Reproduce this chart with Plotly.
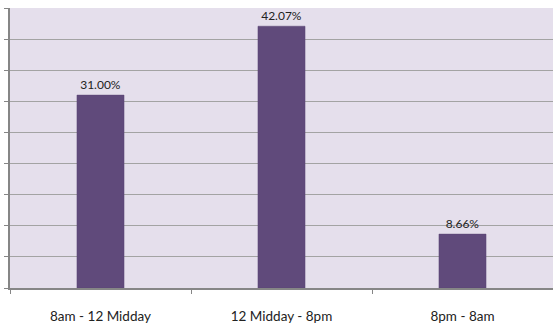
import plotly.graph_objects as go

categories = ["8am - 12 Midday", "12 Midday - 8pm", "8pm - 8am"]
values = [31.00, 42.07, 8.66]
labels = ["31.00%", "42.07%", "8.66%"]

fig = go.Figure(go.Bar(
    x=categories, y=values, text=labels, textposition="outside",
    textfont=dict(family="Lato", size=12, color="#222222"),
    marker=dict(color="#604A7B", line=dict(color="#5A4675", width=0.5)),
    width=0.26, cliponaxis=False,
))

fig.update_layout(
    width=553, height=329,
    margin=dict(l=10, r=0, t=8, b=41),
    paper_bgcolor="white", plot_bgcolor="#E5DFEC",
    showlegend=False,
    font=dict(family="Lato", size=12, color="#222222"),
)
fig.update_yaxes(
    range=[0, 45], dtick=5, showticklabels=False,
    showgrid=True, gridcolor="#A3A3A3", gridwidth=1.4,
    ticks="outside", ticklen=4, tickcolor="#868686",
    showline=True, linecolor="#868686", linewidth=1.5,
    zeroline=False,
)
fig.update_xaxes(
    showline=True, linecolor="#868686", linewidth=1.5,
    ticks="outside", ticklen=4, tickcolor="#868686", tickson="boundaries",
    ticklabelstandoff=15, tickfont=dict(family="Lato", size=13.5, color="#222222"),
)

fig.write_html("out.html")
